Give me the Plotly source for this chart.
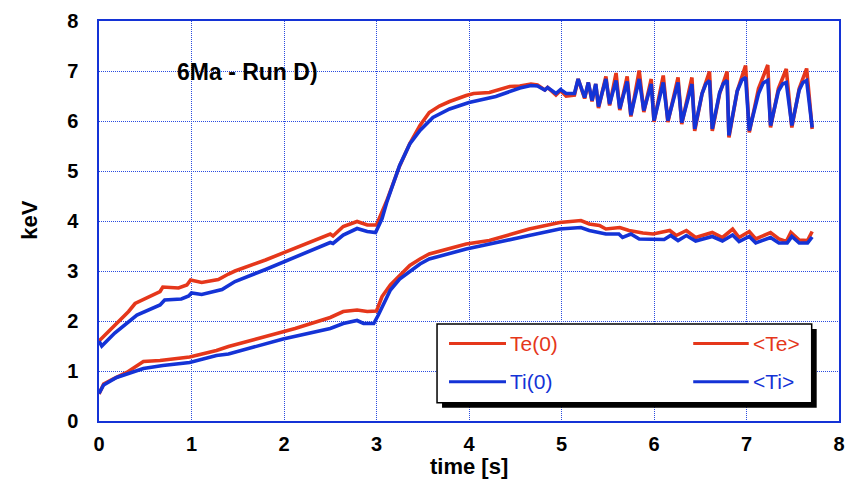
import plotly.graph_objects as go

# ---------------- data ----------------
t_te0 = [0, 0.14, 0.32, 0.39, 0.53, 0.66, 0.69, 0.86, 0.95, 0.99, 1.11, 1.29, 1.40, 1.47, 1.80, 2.12,
         2.50, 2.53, 2.64, 2.79, 2.90, 3.00, 3.06, 3.11, 3.25, 3.36, 3.47, 3.57, 3.68, 3.79, 3.97, 4.05,
         4.22, 4.44, 4.55, 4.67, 4.74, 4.82, 4.85, 4.94, 4.99, 5.05, 5.14,
         5.18, 5.25, 5.29, 5.33, 5.37, 5.40, 5.48, 5.52, 5.59, 5.63, 5.71, 5.75, 5.84, 5.89, 5.97, 6.00,
         6.10, 6.15, 6.26, 6.30, 6.41, 6.44, 6.52, 6.60, 6.63, 6.71, 6.79, 6.81, 6.90, 6.99, 7.03, 7.13,
         7.23, 7.26, 7.345, 7.43, 7.49, 7.57, 7.65, 7.71]
te0 = [1.60, 1.86, 2.19, 2.35, 2.47, 2.59, 2.68, 2.66, 2.72, 2.82, 2.77, 2.83, 2.94, 3.00, 3.22, 3.45,
       3.74, 3.70, 3.89, 3.99, 3.92, 3.92, 4.17, 4.40, 5.10, 5.55, 5.91, 6.17, 6.30, 6.39, 6.51, 6.55,
       6.57, 6.69, 6.70, 6.74, 6.72, 6.62, 6.67, 6.52, 6.61, 6.50, 6.52,
       6.84, 6.45, 6.77, 6.39, 6.74, 6.26, 6.89, 6.31, 6.96, 6.22, 6.89, 6.09, 7.01, 6.18, 6.84, 5.98,
       6.91, 5.98, 6.87, 5.94, 6.87, 5.80, 6.55, 6.99, 5.80, 6.55, 6.99, 5.67, 6.60, 7.11, 5.77, 6.65,
       7.12, 5.87, 6.65, 7.04, 5.87, 6.65, 7.05, 5.84]

t_ti0 = [0, 0.03, 0.17, 0.35, 0.41, 0.66, 0.71, 0.89, 0.97, 1.00, 1.11, 1.33, 1.47, 1.80, 2.12, 2.50,
         2.53, 2.64, 2.79, 2.90, 2.99, 3.06, 3.11, 3.25, 3.36, 3.47, 3.61, 3.79, 4.00, 4.29, 4.55, 4.67,
         4.74, 4.82, 4.85, 4.94, 4.99, 5.05, 5.14,
         5.18, 5.25, 5.29, 5.33, 5.37, 5.40, 5.48, 5.52, 5.59, 5.63, 5.71, 5.75, 5.84, 5.89, 5.97, 6.00,
         6.10, 6.15, 6.26, 6.30, 6.41, 6.44, 6.52, 6.56, 6.60, 6.63, 6.71, 6.75, 6.79, 6.81, 6.90, 6.95,
         6.99, 7.03, 7.13, 7.18, 7.23, 7.26, 7.345, 7.39, 7.43, 7.49, 7.57, 7.61, 7.65, 7.71]
ti0 = [1.60, 1.50, 1.76, 2.02, 2.12, 2.32, 2.42, 2.44, 2.50, 2.56, 2.53, 2.63, 2.79, 3.03, 3.27, 3.57,
       3.55, 3.72, 3.85, 3.79, 3.77, 4.05, 4.37, 5.11, 5.54, 5.81, 6.07, 6.24, 6.37, 6.49, 6.66, 6.71,
       6.70, 6.62, 6.67, 6.55, 6.63, 6.55, 6.55,
       6.84, 6.47, 6.77, 6.41, 6.74, 6.29, 6.84, 6.34, 6.81, 6.25, 6.79, 6.12, 6.84, 6.21, 6.74, 6.01,
       6.77, 6.01, 6.77, 5.97, 6.74, 5.84, 6.55, 6.74, 6.81, 5.84, 6.57, 6.75, 6.81, 5.71, 6.60, 6.82,
       6.87, 5.81, 6.55, 6.76, 6.81, 5.91, 6.60, 6.74, 6.77, 5.91, 6.62, 6.77, 6.81, 5.87]

t_te_avg = [0, 0.05, 0.15, 0.30, 0.48, 0.66, 0.98, 1.27, 1.40, 1.99, 2.12, 2.50, 2.64, 2.79, 2.90, 3.00,
            3.06, 3.15, 3.25, 3.36, 3.47, 3.57, 3.97, 4.22, 4.65, 4.98, 5.21, 5.30, 5.41, 5.48, 5.63,
            5.73, 5.88, 5.99, 6.17, 6.24, 6.35, 6.45, 6.63, 6.74, 6.85, 6.92, 7.03, 7.10, 7.26, 7.35,
            7.43, 7.48, 7.57, 7.66, 7.71]
te_avg = [0.54, 0.74, 0.84, 0.97, 1.19, 1.21, 1.28, 1.41, 1.49, 1.77, 1.85, 2.07, 2.19, 2.22, 2.19, 2.20,
          2.49, 2.72, 2.91, 3.11, 3.24, 3.34, 3.54, 3.61, 3.84, 3.97, 4.01, 3.94, 3.91, 3.84, 3.87,
          3.81, 3.76, 3.74, 3.81, 3.71, 3.81, 3.67, 3.77, 3.67, 3.84, 3.67, 3.79, 3.64, 3.77, 3.64,
          3.59, 3.77, 3.62, 3.61, 3.79]

t_ti_avg = [0, 0.05, 0.19, 0.48, 0.69, 0.98, 1.27, 1.40, 1.99, 2.12, 2.50, 2.64, 2.79, 2.86, 2.97, 3.02,
            3.15, 3.25, 3.36, 3.47, 3.57, 3.97, 4.65, 4.98, 5.21, 5.30, 5.48, 5.62, 5.66, 5.75, 5.84,
            6.11, 6.18, 6.26, 6.35, 6.45, 6.63, 6.74, 6.85, 6.92, 7.03, 7.10, 7.26, 7.35, 7.44, 7.49,
            7.57, 7.66, 7.71]
ti_avg = [0.55, 0.72, 0.87, 1.05, 1.11, 1.17, 1.31, 1.34, 1.64, 1.69, 1.85, 1.95, 2.01, 1.95, 1.95, 2.12,
          2.62, 2.84, 3.00, 3.14, 3.24, 3.44, 3.71, 3.84, 3.87, 3.81, 3.74, 3.74, 3.67, 3.74, 3.64,
          3.63, 3.71, 3.61, 3.71, 3.60, 3.69, 3.60, 3.72, 3.59, 3.69, 3.56, 3.67, 3.56, 3.56, 3.69,
          3.56, 3.56, 3.68]

series_names = ["Te(0)", "<Te>", "Ti(0)", "<Ti>"]
x_ticks = [0, 1, 2, 3, 4, 5, 6, 7, 8]
y_ticks = [0, 1, 2, 3, 4, 5, 6, 7, 8]
chart_label = "6Ma - Run D)"
x_title = "time [s]"
y_title = "keV"

# ---------------- style ----------------
RED = "#e5371b"
BLUE = "#1433d6"
GRID = "#2a4be0"
BOLDF = "Liberation Sans, Arial, Helvetica, sans-serif"
SANS = "Liberation Sans, Arial, Helvetica, sans-serif"

fig = go.Figure()
for tx, vy, col, nm in [(t_te0, te0, RED, series_names[0]), (t_te_avg, te_avg, RED, series_names[1]),
                        (t_ti0, ti0, BLUE, series_names[2]), (t_ti_avg, ti_avg, BLUE, series_names[3])]:
    fig.add_trace(go.Scatter(x=tx, y=vy, mode="lines", name=nm,
                             line=dict(color=col, width=3.6), showlegend=False))

axis_common = dict(range=[0, 8], tickvals=x_ticks, showgrid=True, gridcolor=GRID, griddash="1px,1px",
                   gridwidth=1.2, showline=True, linecolor=BLUE, linewidth=1.5, mirror=True,
                   zeroline=False, ticks="", automargin=False, ticklabeloverflow="allow",
                   tickfont=dict(family=BOLDF, size=20, color="black", weight="bold"))
fig.update_xaxes(**axis_common, ticklabelstandoff=4)
fig.update_yaxes(**{**axis_common, "tickvals": y_ticks}, ticklabelstandoff=15)

# legend box (manual, with drop shadow)
L, R, B, T = 0.4568, 0.9631, 0.0458, 0.2425
dx, dy = 5 / 740, 5 / 400
shapes = [
    dict(type="rect", xref="paper", yref="paper", x0=L + dx, x1=R + dx, y0=B - dy, y1=T - dy,
         fillcolor="black", line=dict(width=0)),
    dict(type="rect", xref="paper", yref="paper", x0=L, x1=R, y0=B, y1=T,
         fillcolor="white", line=dict(color="black", width=1.5)),
]
leg = [(0.473, 0.550, 0.194, RED, series_names[0]), (0.803, 0.878, 0.194, RED, series_names[1]),
       (0.473, 0.550, 0.098, BLUE, series_names[2]), (0.803, 0.878, 0.098, BLUE, series_names[3])]
annotations = []
for x0, x1, yy, col, nm in leg:
    shapes.append(dict(type="line", xref="paper", yref="paper", x0=x0, x1=x1, y0=yy, y1=yy,
                       line=dict(color=col, width=3)))
    annotations.append(dict(xref="paper", yref="paper", x=x1 + 0.003, y=yy, xanchor="left",
                            yanchor="middle", text=nm.replace("<", "&lt;").replace(">", "&gt;"),
                            showarrow=False, font=dict(family=SANS, size=21, color=col)))

annotations += [
    dict(xref="paper", yref="paper", x=0.2, y=0.8725, text=chart_label, showarrow=False,
         xanchor="center", yanchor="middle", font=dict(family=SANS, size=23, color="black", weight="bold")),
    dict(xref="paper", yref="paper", x=-0.095, y=0.5025, text=y_title, showarrow=False, textangle=-90,
         xanchor="center", yanchor="middle", font=dict(family=SANS, size=22, color="black", weight="bold")),
    dict(xref="paper", yref="paper", x=0.5, y=-0.1125, text=x_title, showarrow=False,
         xanchor="center", yanchor="middle", font=dict(family=BOLDF, size=22, color="black", weight="bold")),
]

fig.update_layout(width=846, height=483, margin=dict(l=99, r=7, t=21, b=62),
                  paper_bgcolor="white", plot_bgcolor="white", shapes=shapes,
                  annotations=annotations, showlegend=False)
# remove the default page margin so the figure fills the window exactly
fig.write_html("out.html", config={"displayModeBar": False},
               post_script="document.body.style.margin='0px';document.body.style.overflow='hidden';")
